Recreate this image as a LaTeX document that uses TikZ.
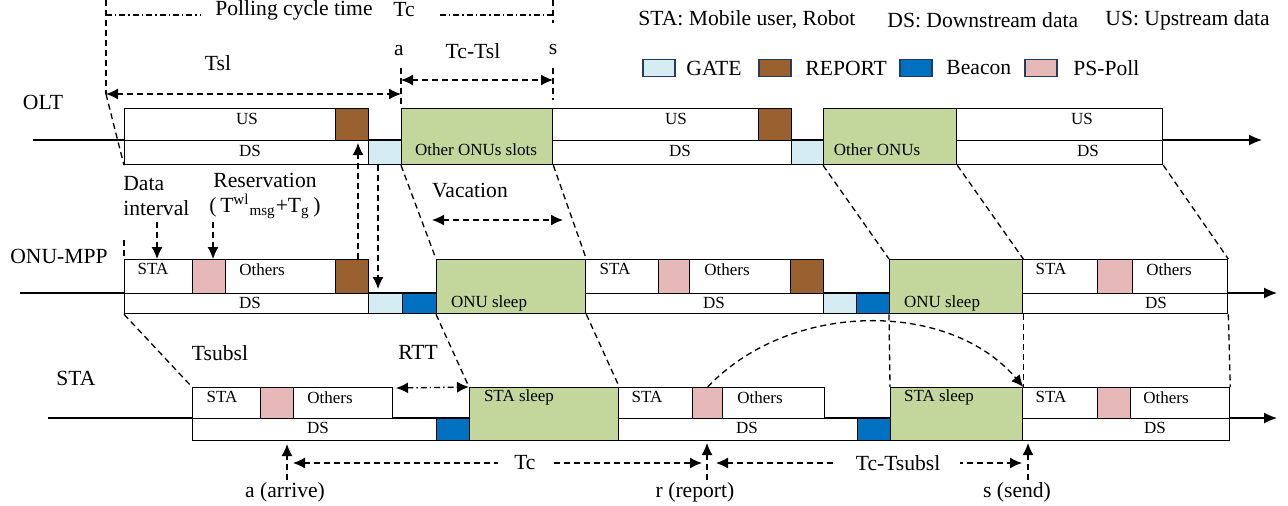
\documentclass[tikz,border=0pt]{standalone}
\usepackage{fontspec}
\setmainfont{Liberation Serif}
\usetikzlibrary{arrows.meta}

\definecolor{gatecol}{RGB}{214,236,243}
\definecolor{repcol}{RGB}{153,96,48}
\definecolor{beaconcol}{RGB}{0,112,192}
\definecolor{pollcol}{RGB}{230,184,183}
\definecolor{sleepcol}{RGB}{195,214,155}
\definecolor{legline}{RGB}{35,60,100}

\newcommand{\bigtxt}{\fontsize{10.8}{12.5}\selectfont}
\newcommand{\celltxt}{\fontsize{8.5}{10}\selectfont}
% time slot: name, x1, y1, x2, y2, style
\newcommand{\tslot}[6]{\node[slotbox,#6,minimum width={(#4-#2)*0.5pt},minimum height={(#5-#3)*0.5pt}] (#1) at (#2,#3) {};}

\begin{document}
\begin{tikzpicture}[x=0.5pt,y=-0.5pt]
    % Styles
    \tikzstyle{slotbox} = [draw, line width=0.65pt, fill=white, inner sep=0pt, anchor=north west]
    \tikzstyle{gate} = [fill=gatecol]
    \tikzstyle{report} = [fill=repcol]
    \tikzstyle{beacon} = [fill=beaconcol]
    \tikzstyle{pspoll} = [fill=pollcol]
    \tikzstyle{sleep} = [fill=sleepcol]
    \tikzstyle{txt} = [font=\bigtxt, inner sep=1pt]
    \tikzstyle{ctxt} = [font=\celltxt, inner sep=0pt]
    \tikzstyle{timeaxis} = [line width=0.65pt, -{Latex[length=6.5pt,width=5.5pt]}]
    \tikzstyle{guide} = [line width=0.65pt, dash pattern=on 3pt off 2pt]
    \tikzstyle{cyclemark} = [line width=0.65pt, dash pattern=on 3pt off 1.5pt on 0.7pt off 1.5pt]
    \tikzstyle{toarrow} = [-{Latex[length=6pt,width=5.5pt]}]
    \tikzstyle{bothways} = [{Latex[length=6pt,width=5.5pt]}-{Latex[length=6pt,width=5.5pt]}]
    \tikzstyle{legbox} = [draw=legline, line width=0.9pt, minimum width=16pt, minimum height=8.5pt, inner sep=0pt]

    \useasboundingbox (0,0) rectangle (1288,505);

    % Time axes
    \coordinate (oltStart) at (33,140);
    \coordinate (oltEnd) at (1262,140);
    \coordinate (onuStart) at (20,293);
    \coordinate (onuEnd) at (1277,293);
    \coordinate (staStart) at (48,418);
    \coordinate (staEnd) at (1277,418);
    \draw[timeaxis] (oltStart) -- (oltEnd);
    \draw[timeaxis] (onuStart) -- (onuEnd);
    \draw[timeaxis] (staStart) -- (staEnd);

    \node[txt] (lblOlt) at (43,102) {OLT};
    \node[txt] (lblOnu) at (59,256) {ONU-MPP};
    \node[txt] (lblSta) at (76,378) {STA};

    % OLT slots
    \tslot{oltUS1}{124}{108}{368}{140}{}
    \tslot{oltRep1}{335}{108}{368}{140}{report}
    \tslot{oltDS1}{124}{140}{368}{164}{}
    \tslot{oltGate1}{368}{140}{401}{164}{gate}
    \tslot{oltOther1}{401}{108}{552}{164}{sleep}
    \tslot{oltUS2}{552}{108}{791}{140}{}
    \tslot{oltRep2}{758}{108}{791}{140}{report}
    \tslot{oltDS2}{552}{140}{791}{164}{}
    \tslot{oltGate2}{791}{140}{823}{164}{gate}
    \tslot{oltOther2}{823}{108}{956}{164}{sleep}
    \tslot{oltUS3}{956}{108}{1162}{140}{}
    \tslot{oltDS3}{956}{140}{1162}{164}{}

    \node[ctxt] (tOltUS1) at (247,119) {US};
    \node[ctxt] (tOltDS1) at (250,151) {DS};
    \node[ctxt] (tOltOth1) at (476,150) {Other ONUs slots};
    \node[ctxt] (tOltUS2) at (676,119) {US};
    \node[ctxt] (tOltDS2) at (680,151) {DS};
    \node[ctxt] (tOltOth2) at (877,150) {Other ONUs};
    \node[ctxt] (tOltUS3) at (1082,119) {US};
    \node[ctxt] (tOltDS3) at (1088,151) {DS};

    % ONU-MPP slots
    \tslot{onuSta1}{124}{259}{192}{293}{}
    \tslot{onuPs1}{192}{259}{225}{293}{pspoll}
    \tslot{onuOth1}{225}{259}{335}{293}{}
    \tslot{onuRep1}{335}{259}{368}{293}{report}
    \tslot{onuDS1}{124}{293}{368}{313}{}
    \tslot{onuGate1}{368}{293}{402}{313}{gate}
    \tslot{onuBcn1}{402}{293}{436}{313}{beacon}
    \tslot{onuSleep1}{436}{259}{585}{313}{sleep}
    \tslot{onuSta2}{585}{259}{658}{293}{}
    \tslot{onuPs2}{658}{259}{689}{293}{pspoll}
    \tslot{onuOth2}{689}{259}{790}{293}{}
    \tslot{onuRep2}{790}{259}{823}{293}{report}
    \tslot{onuDS2}{585}{293}{823}{313}{}
    \tslot{onuGate2}{823}{293}{856}{313}{gate}
    \tslot{onuBcn2}{856}{293}{889}{313}{beacon}
    \tslot{onuSleep2}{889}{259}{1022}{313}{sleep}
    \tslot{onuSta3}{1022}{259}{1097}{293}{}
    \tslot{onuPs3}{1097}{259}{1132}{293}{pspoll}
    \tslot{onuOth3}{1132}{259}{1227}{293}{}
    \tslot{onuDS3}{1022}{293}{1227}{313}{}

    \node[ctxt] (tOnuSta1) at (153,269) {STA};
    \node[ctxt] (tOnuOth1) at (262,270) {Others};
    \node[ctxt] (tOnuDS1) at (250,303) {DS};
    \node[ctxt] (tOnuSl1) at (489,303) {ONU sleep};
    \node[ctxt] (tOnuSta2) at (615,269) {STA};
    \node[ctxt] (tOnuOth2) at (727,270) {Others};
    \node[ctxt] (tOnuDS2) at (714,303) {DS};
    \node[ctxt] (tOnuSl2) at (942,303) {ONU sleep};
    \node[ctxt] (tOnuSta3) at (1051,269) {STA};
    \node[ctxt] (tOnuOth3) at (1169,270) {Others};
    \node[ctxt] (tOnuDS3) at (1156,303) {DS};

    % STA slots
    \tslot{staSta1}{192}{387}{260}{418}{}
    \tslot{staPs1}{260}{387}{293}{418}{pspoll}
    \tslot{staOth1}{293}{387}{392}{418}{}
    \tslot{staDS1}{192}{418}{436}{440}{}
    \tslot{staBcn1}{436}{418}{469}{440}{beacon}
    \tslot{staSleep1}{469}{387}{618}{440}{sleep}
    \tslot{staSta2}{618}{387}{692}{418}{}
    \tslot{staPs2}{692}{387}{722}{418}{pspoll}
    \tslot{staOth2}{722}{387}{824}{418}{}
    \tslot{staDS2}{618}{418}{857}{440}{}
    \tslot{staBcn2}{857}{418}{890}{440}{beacon}
    \tslot{staSleep2}{890}{387}{1022}{440}{sleep}
    \tslot{staSta3}{1022}{387}{1097}{418}{}
    \tslot{staPs3}{1097}{387}{1130}{418}{pspoll}
    \tslot{staOth3}{1130}{387}{1229}{418}{}
    \tslot{staDS3}{1022}{418}{1229}{440}{}

    \node[ctxt] (tStaSta1) at (222,397) {STA};
    \node[ctxt] (tStaOth1) at (330,398) {Others};
    \node[ctxt] (tStaDS1) at (318,428) {DS};
    \node[ctxt] (tStaSl1) at (519,397) {STA sleep};
    \node[ctxt] (tStaSta2) at (647,397) {STA};
    \node[ctxt] (tStaOth2) at (760,398) {Others};
    \node[ctxt] (tStaDS2) at (747,428) {DS};
    \node[ctxt] (tStaSl2) at (939,397) {STA sleep};
    \node[ctxt] (tStaSta3) at (1051,397) {STA};
    \node[ctxt] (tStaOth3) at (1166,398) {Others};
    \node[ctxt] (tStaDS3) at (1155,428) {DS};

    % Polling cycle, Tsl and Tc-Tsl
    \coordinate (pcTop) at (106,0);
    \coordinate (tslL) at (106,94);
    \coordinate (pcA) at (106,15);
    \coordinate (pcB) at (200,15);
    \coordinate (pcC) at (440,15);
    \coordinate (pcD) at (553,15);
    \coordinate (pcTick) at (553,0);
    \coordinate (pcTickEnd) at (553,23);
    \draw[guide] (pcTop) -- (tslL);
    \draw[guide] (tslL) -- (oltDS1.south west);
    \draw[cyclemark] (pcA) -- (pcB);
    \draw[cyclemark] (pcC) -- (pcD);
    \draw[guide] (pcTick) -- (pcTickEnd);
    \node[txt] (lblPoll) at (294,10) {Polling cycle time};
    \node[txt] (lblPollTc) at (404,10) {Tc};

    \draw[guide, bothways] (tslL) -- (tslL -| oltOther1.north west);
    \node[txt] (lblTsl) at (218,63) {Tsl};

    \coordinate (aTop) at (401,68);
    \coordinate (sTop) at (553,68);
    \coordinate (sBot) at (553,100);
    \coordinate (aMark) at (401,80);
    \coordinate (sMark) at (553,80);
    \draw[guide] (aTop) -- (oltOther1.north west);
    \draw[guide] (sTop) -- (sBot);
    \draw[guide, bothways] (aMark) -- (sMark);
    \node[txt] (lblA) at (399,51) {a};
    \node[txt] (lblTcTsl) at (473,51) {Tc-Tsl};
    \node[txt] (lblS) at (553,50) {s};

    % Legend
    \node[txt, anchor=west] (legSta) at (636,20) {STA: Mobile user, Robot};
    \node[txt, anchor=west] (legDS) at (885,20) {DS: Downstream data};
    \node[txt, anchor=west] (legUS) at (1103,20) {US: Upstream data};
    \node[legbox, fill=gatecol] (legGate) at (659,68) {};
    \node[txt, anchor=west] (legGateT) at (684,68) {GATE};
    \node[legbox, fill=repcol] (legRep) at (775,68) {};
    \node[txt, anchor=west] (legRepT) at (803,68) {REPORT};
    \node[legbox, fill=beaconcol] (legBcn) at (916,68) {};
    \node[txt, anchor=west] (legBcnT) at (944,68) {Beacon};
    \node[legbox, fill=pollcol] (legPs) at (1041,68) {};
    \node[txt, anchor=west] (legPsT) at (1071,68) {PS-Poll};

    % OLT to ONU-MPP
    \draw[guide] (oltOther1.south west) -- (onuSleep1.north west);
    \draw[guide] (oltOther1.south east) -- (onuSleep1.north east);
    \draw[guide] (oltOther2.south west) -- (onuSleep2.north west);
    \draw[guide] (oltOther2.south east) -- (onuSleep2.north east);
    \draw[guide] (oltDS3.south east) -- (onuOth3.north east);
    \coordinate (leftTick) at (124,240);
    \draw[guide] (leftTick) -- (onuSta1.north west);

    \coordinate (repTip) at (358,143);
    \coordinate (gateTip) at (378,289);
    \draw[guide, toarrow] (repTip |- onuRep1.north) -- (repTip);
    \draw[guide, toarrow] (gateTip |- oltGate1.south) -- (gateTip);

    \node[txt, anchor=west, align=left] (lblData) at (121,196) {Data\\interval};
    \node[txt, align=center] (lblRes) at (265,196) {Reservation\\(\,T\textsuperscript{wl}\textsubscript{msg}+T\textsubscript{g}\,)};
    \coordinate (dataFoot) at (157,222);
    \coordinate (resFoot) at (213,222);
    \draw[guide, toarrow] (dataFoot) -- (dataFoot |- onuSta1.north);
    \draw[guide, toarrow] (resFoot) -- (resFoot |- onuPs1.north);

    \coordinate (vacL) at (432,220);
    \coordinate (vacR) at (563,220);
    \draw[guide, bothways] (vacL) -- (vacR);
    \node[txt] (lblVac) at (470,191) {Vacation};

    % ONU-MPP to STA
    \draw[guide] (onuDS1.south west) -- (staSta1.north west);
    \draw[guide] (onuSleep1.south west) -- (staSleep1.north west);
    \draw[guide] (onuSleep1.south east) -- (staSleep1.north east);
    \draw[guide] (onuSleep2.south west) -- (staSleep2.north west);
    \draw[guide] (onuSleep2.south east) -- (staSleep2.north east);
    \draw[guide] (onuDS3.south east) -- (staOth3.north east);

    \node[txt] (lblTsub) at (220,353) {Tsubsl};
    \node[txt] (lblRtt) at (418,352) {RTT};
    \coordinate (rttL) at (396,388);
    \draw[cyclemark, bothways] (rttL) -- (staSleep1.north west);

    % PS-Poll report to send
    \draw[guide, toarrow] (staPs2.north) .. controls (790,300) and (950,300) .. (staSleep2.north east);

    % Bottom marks
    \node[txt] (lblArr) at (285,492) {a (arrive)};
    \node[txt] (lblRep) at (695,492) {r (report)};
    \node[txt] (lblSend) at (1017,492) {s (send)};
    \coordinate (aTip) at (287,444);
    \coordinate (rTip) at (707,443);
    \coordinate (sTip) at (1028,443);
    \draw[guide, toarrow] (aTip |- lblArr.north) -- (aTip);
    \draw[guide, toarrow] (rTip |- lblRep.north) -- (rTip);
    \draw[guide, toarrow] (sTip |- lblSend.north) -- (sTip);

    \coordinate (tcL) at (293,463);
    \coordinate (tcR) at (702,463);
    \coordinate (tcsubL) at (716,463);
    \coordinate (tcsubR) at (1022,463);
    \draw[guide, bothways] (tcL) -- node[txt, pos=0.567, fill=white, inner xsep=8pt] (lblTc) {Tc} (tcR);
    \draw[guide, bothways] (tcsubL) -- node[txt, pos=0.595, fill=white, inner xsep=10pt] (lblTcSub) {Tc-Tsubsl} (tcsubR);

\end{tikzpicture}
\end{document}
